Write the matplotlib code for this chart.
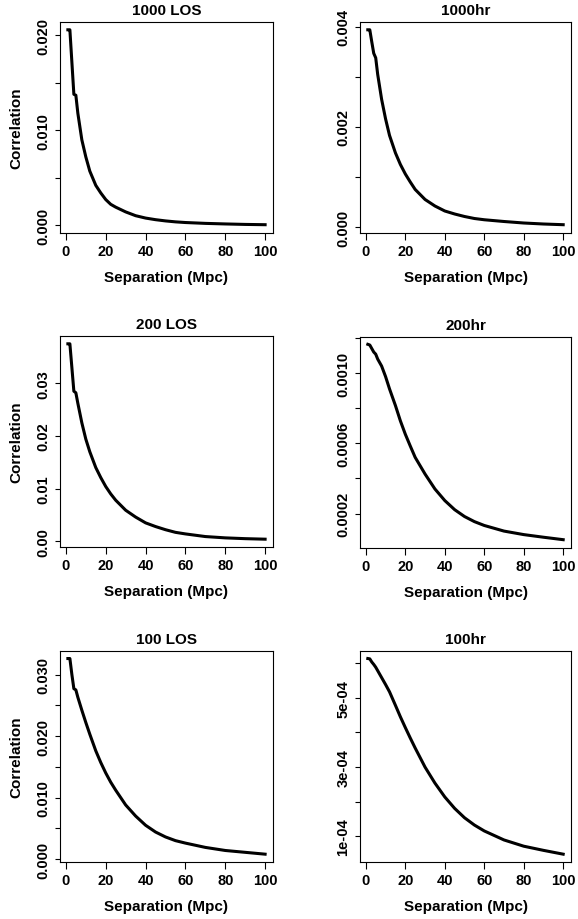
import numpy as np
import matplotlib.pyplot as plt

plt.rcParams['font.family'] = ['Liberation Sans', 'DejaVu Sans']
plt.rcParams['font.weight'] = 'bold'

sep = [1, 2, 3, 4, 5, 6, 8, 10, 12, 15, 17.5, 20, 22.5, 25, 30, 35, 40, 45, 50, 55, 60, 70, 80, 90, 100]

los1000 = [0.0206, 0.0206, 0.0172, 0.0138, 0.0137, 0.0118, 0.0090, 0.0072, 0.0057, 0.0042,
           0.0034, 0.0027, 0.0022, 0.0019, 0.0014, 0.0010, 0.00075, 0.00058, 0.00045, 0.00035,
           0.00028, 0.00019, 0.00013, 0.00008, 0.00005]
hr1000 = [0.00394, 0.00394, 0.0037, 0.00347, 0.00338, 0.00305, 0.00255, 0.00216, 0.00183, 0.00148,
          0.00125, 0.00106, 0.0009, 0.00075, 0.00055, 0.00042, 0.00032, 0.00026, 0.00021, 0.00017,
          0.000145, 0.00011, 0.00008, 0.00006, 0.000046]
los200 = [0.0375, 0.0375, 0.0330, 0.0285, 0.0282, 0.0262, 0.0225, 0.0194, 0.0170, 0.0140,
          0.0121, 0.0104, 0.0090, 0.0078, 0.0059, 0.0046, 0.0035, 0.0028, 0.0022, 0.0017,
          0.0014, 0.0009, 0.00065, 0.0005, 0.0004]
hr200 = [0.001164, 0.00116, 0.00114, 0.00112, 0.001108, 0.00108, 0.00104, 0.00098, 0.00091, 0.000815,
         0.000728, 0.000652, 0.000585, 0.00052, 0.000425, 0.00034, 0.000274, 0.000222, 0.000183, 0.000154,
         0.000132, 0.0001, 0.00008, 0.000065, 0.000051]
los100 = [0.0326, 0.0326, 0.0300, 0.0277, 0.0275, 0.0263, 0.0242, 0.0222, 0.0203, 0.0176,
          0.0157, 0.0140, 0.0125, 0.0112, 0.0088, 0.0070, 0.0055, 0.0044, 0.0036, 0.0030,
          0.0026, 0.0019, 0.0014, 0.0011, 0.0008]
hr100 = [0.000613, 0.000612, 0.000603, 0.000596, 0.000588, 0.000578, 0.000558, 0.000538, 0.000517, 0.000478,
         0.000445, 0.000414, 0.000384, 0.000355, 0.0003, 0.000254, 0.000214, 0.000181, 0.000154, 0.000133,
         0.000116, 0.00009, 0.000072, 0.00006, 0.000049]

titles = ['1000 LOS', '1000hr', '200 LOS', '200hr', '100 LOS', '100hr']
series = [los1000, hr1000, los200, hr200, los100, hr100]

yticks = [
    [0, 0.005, 0.010, 0.015, 0.020],
    [0, 0.001, 0.002, 0.003, 0.004],
    [0, 0.01, 0.02, 0.03],
    [0.0002, 0.0004, 0.0006, 0.0008, 0.0010, 0.0012],
    [0, 0.005, 0.010, 0.015, 0.020, 0.025, 0.030],
    [1e-4, 2e-4, 3e-4, 4e-4, 5e-4, 6e-4],
]
ylabels = [
    ['0.000', '', '0.010', '', '0.020'],
    ['0.000', '', '0.002', '', '0.004'],
    ['0.00', '0.01', '0.02', '0.03'],
    ['0.0002', '', '0.0006', '', '0.0010', ''],
    ['0.000', '', '0.010', '', '0.020', '', '0.030'],
    ['1e-04', '', '3e-04', '', '5e-04', ''],
]
xticks = [0, 20, 40, 60, 80, 100]

W, H = 578, 920
fig = plt.figure(figsize=(W / 100, H / 100), dpi=100)

# panel boxes in pixels: left, right, top, bottom
boxes = [
    (60, 273, 23, 233.5), (360, 571, 23, 233.5),
    (60, 273, 337, 548), (360, 571, 337.5, 548.5),
    (60, 273, 651.7, 863), (360, 571, 651.7, 863),
]

narrow = ['Liberation Sans Narrow', 'Liberation Sans', 'DejaVu Sans']

for i in range(6):
    l, r, t, b = boxes[i]
    ax = fig.add_axes([l / W, 1 - b / H, (r - l) / W, (b - t) / H])
    ax.plot(sep, series[i], color='black', lw=2.2, solid_joinstyle='round')
    ax.margins(x=0.04, y=0.04)
    ax.set_xticks(xticks)
    ax.set_xticklabels([str(v) for v in xticks], fontsize=10.5, fontweight='bold')
    ax.set_yticks(yticks[i])
    ax.set_yticklabels(ylabels[i], rotation=90, va='center', fontsize=10.5,
                       fontweight='bold', family=narrow)
    ax.tick_params(axis='x', direction='out', length=5, width=0.8, pad=3.2)
    ax.tick_params(axis='y', direction='out', length=3.6, width=0.8, pad=3.4)
    for s in ax.spines.values():
        s.set_linewidth(0.8)
    ax.set_title(titles[i], fontsize=11, fontweight='bold', pad=5.5)
    ax.set_xlabel('Separation (Mpc)', fontsize=11, fontweight='bold', labelpad=8.4)
    if i % 2 == 0:
        ax.set_ylabel('Correlation', fontsize=11, fontweight='bold', labelpad=9)

plt.savefig('out.png', dpi=100)
